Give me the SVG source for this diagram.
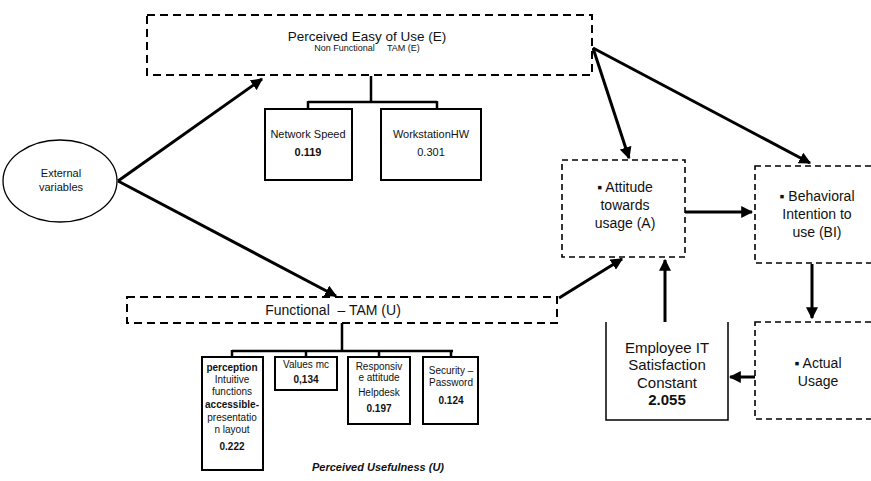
<svg xmlns="http://www.w3.org/2000/svg" width="871" height="481" viewBox="0 0 871 481">
<defs>
<marker id="ah" viewBox="0 0 10 10" refX="9" refY="5" markerWidth="4" markerHeight="4" orient="auto" markerUnits="strokeWidth">
<path d="M0,0 L10,5 L0,10 Z" fill="#000"/>
</marker>
<style>
text{font-family:"Liberation Sans",Arial,sans-serif;fill:#111;text-anchor:middle}
.dash{fill:#fff;stroke:#000;stroke-width:2;stroke-dasharray:8 5}
.dash2{fill:#fff;stroke:#000;stroke-width:1.6;stroke-dasharray:6 4}
.box{fill:#fff;stroke:#000;stroke-width:2}
.tree{fill:none;stroke:#000;stroke-width:2.5}
.arr{fill:none;stroke:#000;stroke-width:3;marker-end:url(#ah)}
.b{font-weight:bold}
</style>
</defs>
<rect width="871" height="481" fill="#fff"/>

<g id="connectors">
<path class="arr" d="M118,181 L262,79"/>
<path class="arr" d="M118,181 L336,296"/>
<path class="arr" d="M593,48 L629,158"/>
<path class="arr" d="M593,48 L810,163"/>
<path class="arr" d="M559,298 L622,259"/>
<path class="arr" d="M685,212 L752,212"/>
<path class="arr" d="M812,264 L812,318"/>
<path class="arr" d="M665,322 L665,260"/>
<path class="arr" d="M756,377 L730,377"/>
<path class="tree" d="M371,76 V102 M308,102 H437 M308,101 V109 M437,101 V109"/>
<path class="tree" d="M342,323 V351 M232,351 H453 M232,350 V357 M306,350 V357 M379,350 V357 M451,350 V357"/>
</g>

<g id="ease">
<rect class="dash" x="147" y="15" width="445" height="60"/>
<text x="367" y="41" font-size="13.5">Perceived Easy of Use (E)</text>
<text x="367" y="51" font-size="9" xml:space="preserve">Non Functional     TAM (E)</text>
</g>

<g id="network">
<rect class="box" x="265" y="109" width="87" height="71"/>
<text x="308" y="138" font-size="11">Network Speed</text>
<text x="308" y="156" font-size="11" class="b">0.119</text>
</g>

<g id="workstation">
<rect class="box" x="381" y="109" width="100" height="71"/>
<text x="431" y="138" font-size="11">WorkstationHW</text>
<text x="431" y="156" font-size="11">0.301</text>
</g>

<g id="external">
<ellipse cx="60" cy="181" rx="57" ry="41" fill="#fff" stroke="#000" stroke-width="1.3"/>
<text x="61" y="177" font-size="11">External</text>
<text x="61" y="191" font-size="11">variables</text>
</g>

<g id="functional">
<rect class="dash" x="127" y="297" width="430" height="26"/>
<text x="333" y="315" font-size="14" xml:space="preserve">Functional  – TAM (U)</text>
</g>

<g id="attitude">
<rect class="dash2" x="562" y="160" width="123" height="97"/>
<text x="625" y="192" font-size="14">▪ Attitude</text>
<text x="625" y="210" font-size="14">towards</text>
<text x="625" y="228" font-size="14">usage (A)</text>
</g>

<g id="behavioral">
<rect class="dash2" x="755" y="166" width="130" height="97"/>
<text x="817" y="201" font-size="14">▪ Behavioral</text>
<text x="817" y="219" font-size="14">Intention to</text>
<text x="817" y="237" font-size="14">use (BI)</text>
</g>

<g id="actual">
<rect class="dash2" x="755" y="322" width="130" height="97"/>
<text x="818" y="368" font-size="14">▪ Actual</text>
<text x="818" y="386" font-size="14">Usage</text>
</g>

<g id="employee">
<path d="M606,322 V420 H728 V322" fill="#fff" stroke="#000" stroke-width="1.5"/>
<text x="667" y="353" font-size="15">Employee IT</text>
<text x="667" y="370" font-size="15">Satisfaction</text>
<text x="667" y="388" font-size="15">Constant</text>
<text x="667" y="405" font-size="15" class="b">2.055</text>
</g>

<g id="perception">
<rect class="box" x="202" y="357" width="61" height="113"/>
<text x="232" y="371" font-size="10" class="b">perception</text>
<text x="232" y="383" font-size="10">Intuitive</text>
<text x="232" y="395" font-size="10">functions</text>
<text x="232" y="408" font-size="10" class="b">accessible-</text>
<text x="232" y="421" font-size="10">presentatio</text>
<text x="232" y="433" font-size="10">n layout</text>
<text x="232" y="450" font-size="10" class="b">0.222</text>
</g>

<g id="values">
<rect class="box" x="275" y="357" width="62" height="33"/>
<text x="306" y="368" font-size="10">Values mc</text>
<text x="306" y="383" font-size="10" class="b">0,134</text>
</g>

<g id="responsive">
<rect class="box" x="348" y="357" width="62" height="67"/>
<text x="379" y="370" font-size="10">Responsiv</text>
<text x="379" y="381" font-size="10">e attitude</text>
<text x="379" y="396" font-size="10">Helpdesk</text>
<text x="379" y="412" font-size="10" class="b">0.197</text>
</g>

<g id="security">
<rect class="box" x="423" y="357" width="55" height="67"/>
<text x="451" y="374" font-size="10">Security –</text>
<text x="451" y="386" font-size="10">Password</text>
<text x="451" y="404" font-size="10" class="b">0.124</text>
</g>

<text x="378" y="471" font-size="11" font-weight="bold" font-style="italic">Perceived Usefulness (U)</text>
</svg>
